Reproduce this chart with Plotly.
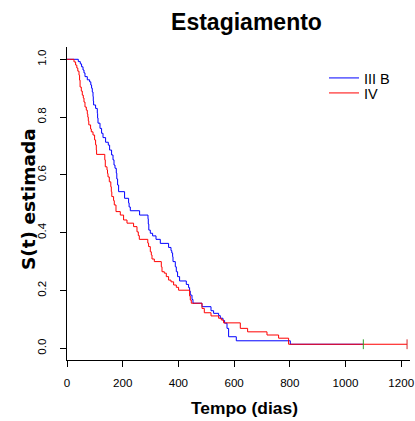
import plotly.graph_objects as go

# ---- data ----
group_names = ["III B", "IV"]

# III B (blue): event times (days) and estimated survival after each event
t_IIIB = [40.6, 47.8, 52.4, 57.5, 61.0, 64.6, 72.9, 81.2, 85.5, 88.3, 90.8, 93.4, 94.4,
          95.5, 102.7, 108.8, 109.9, 111.3, 118.5, 124.2, 129.3, 138.6, 148.3, 153.0,
          160.1, 165.2, 168.8, 172.4, 177.0, 178.8, 181.7, 185.3, 206.8, 221.2, 223.0,
          227.3, 260.7, 290.8, 291.9, 293.7, 299.1, 307.4, 319.6, 335.0, 364.8, 373.4,
          376.3, 379.2, 380.6, 388.9, 392.5, 397.1, 404.3, 428.4, 436.6, 440.2, 442.7,
          448.8, 452.4, 484.7, 517.1, 526.4, 544.4, 550.5, 560.1, 565.9, 574.5, 580.3,
          607.9, 801.8]
s_IIIB = [0.992, 0.984, 0.974, 0.963, 0.953, 0.940, 0.929, 0.922, 0.911, 0.900, 0.887,
          0.871, 0.856, 0.842, 0.830, 0.813, 0.797, 0.779, 0.761, 0.744, 0.729, 0.713,
          0.703, 0.686, 0.669, 0.652, 0.634, 0.623, 0.606, 0.586, 0.565, 0.542, 0.519,
          0.503, 0.489, 0.476, 0.461, 0.448, 0.430, 0.409, 0.398, 0.389, 0.377, 0.363,
          0.349, 0.338, 0.330, 0.317, 0.300, 0.282, 0.265, 0.248, 0.233, 0.221, 0.210,
          0.198, 0.184, 0.169, 0.156, 0.144, 0.130, 0.121, 0.113, 0.104, 0.096, 0.087,
          0.069, 0.040, 0.026, 0.014]
end_IIIB = 1064

# IV (red)
t_IV = [25.1, 30.9, 35.2, 38.8, 43.1, 45.2, 47.0, 51.3, 54.9, 58.5, 61.0, 64.6, 69.3,
        72.9, 74.7, 76.5, 78.3, 84.7, 87.3, 93.4, 99.1, 102.7, 105.2, 106.3, 135.7,
        137.5, 143.6, 145.4, 147.2, 151.9, 157.3, 159.1, 160.9, 167.3, 169.8, 175.9,
        191.4, 203.2, 215.4, 239.1, 251.3, 256.0, 259.6, 290.1, 293.0, 299.1, 302.7,
        305.2, 313.5, 338.6, 341.1, 349.4, 356.6, 364.8, 373.4, 382.8, 392.5, 400.7,
        440.2, 442.7, 446.3, 484.7, 493.0, 517.1, 544.4, 554.1, 562.3, 622.3, 648.5,
        718.1, 759.8, 795.7]
s_IV = [0.991, 0.980, 0.970, 0.959, 0.945, 0.928, 0.904, 0.890, 0.876, 0.866, 0.852,
        0.835, 0.824, 0.811, 0.800, 0.787, 0.773, 0.759, 0.749, 0.738, 0.721, 0.704,
        0.686, 0.671, 0.652, 0.628, 0.617, 0.605, 0.593, 0.576, 0.559, 0.542, 0.525,
        0.511, 0.496, 0.473, 0.461, 0.444, 0.433, 0.421, 0.403, 0.390, 0.377, 0.364,
        0.352, 0.334, 0.323, 0.309, 0.300, 0.282, 0.265, 0.260, 0.248, 0.236, 0.230,
        0.219, 0.211, 0.201, 0.181, 0.167, 0.156, 0.138, 0.123, 0.112, 0.104, 0.098,
        0.088, 0.069, 0.057, 0.046, 0.035, 0.014]
end_IV = 1221

x_ticks = [0, 200, 400, 600, 800, 1000, 1200]
y_ticks = [0.0, 0.2, 0.4, 0.6, 0.8, 1.0]

title_text = "Estagiamento"
x_title = "Tempo (dias)"
y_title = "S(t) estimada"

FONT = "Liberation Sans, Arial, sans-serif"
colors = ["#0000FF", "#FF0000"]

fig = go.Figure()

series = [(t_IIIB, s_IIIB, end_IIIB), (t_IV, s_IV, end_IV)]
for i, (tt, ss, tend) in enumerate(series):
    xs = [0] + tt + [tend]
    ys = [1.0] + ss + [ss[-1]]
    fig.add_trace(go.Scatter(
        x=xs, y=ys, mode="lines", line=dict(color=colors[i], width=1, shape="hv"),
        name=group_names[i], legend="legend" if i == 0 else "legend2",
    ))
for i, (tt, ss, tend) in enumerate(series):
    fig.add_trace(go.Scatter(
        x=[tend], y=[ss[-1]], mode="markers", showlegend=False, hoverinfo="skip",
        marker=dict(symbol="line-ns-open", size=7, line=dict(color=colors[i], width=1)),
    ))

L, R, T, B = 67, 5, 47, 61
W, H = 415, 421
pw = W - L - R
ph = H - T - B

def px_to_paper_x(px):
    return (px - L) / pw

def px_to_paper_y(py):
    return (H - B - py) / ph

legend_common = dict(
    font=dict(family=FONT, size=14.5, color="#000000"),
    bgcolor="rgba(0,0,0,0)", borderwidth=0, xanchor="left", yanchor="middle",
    itemwidth=30, tracegroupgap=0,
)

fig.update_layout(
    template="none",
    width=W, height=H,
    margin=dict(l=L, r=R, t=T, b=B, autoexpand=False),
    paper_bgcolor="white", plot_bgcolor="white",
    font=dict(family=FONT, color="#000000"),
    title=dict(text="<b>" + title_text + "</b>", x=246.5 / W, xref="container", xanchor="center",
               y=1 - 21.7 / H, yref="container", yanchor="middle",
               font=dict(family=FONT, size=23, color="#000000")),
    legend=dict(x=px_to_paper_x(324), y=px_to_paper_y(78), **legend_common),
    legend2=dict(x=px_to_paper_x(324), y=px_to_paper_y(93), **legend_common),
    xaxis=dict(range=[0, pw * 200 / 55.7], tickvals=x_ticks, ticktext=[str(v) for v in x_ticks],
               automargin=False,
               showgrid=False, zeroline=False, showline=True, linecolor="#000000", linewidth=1,
               ticks="outside", ticklen=6, tickwidth=1, tickcolor="#000000",
               tickfont=dict(family=FONT, size=11.6, color="#000000"),
               ticklabelstandoff=6),
    yaxis=dict(range=[1 + 12.3 / 289 - ph / 289, 1 + 12.3 / 289], tickvals=y_ticks,
               ticktext=["%.1f" % v for v in y_ticks], tickangle=-90,
               automargin=False,
               showgrid=False, zeroline=False, showline=True, linecolor="#000000", linewidth=1,
               ticks="outside", ticklen=6, tickwidth=1, tickcolor="#000000",
               tickfont=dict(family=FONT, size=11.6, color="#000000"),
               ticklabelstandoff=9),
    annotations=[
        dict(text="<b>" + x_title + "</b>", xref="paper", yref="paper",
             x=px_to_paper_x(244), y=px_to_paper_y(408), xanchor="center", yanchor="middle",
             showarrow=False, font=dict(family=FONT, size=17.4, color="#000000")),
        dict(text="<b>" + y_title + "</b>", xref="paper", yref="paper",
             x=px_to_paper_x(28), y=px_to_paper_y(199), xanchor="center", yanchor="middle",
             textangle=-90, showarrow=False,
             font=dict(family="DejaVu Sans, Liberation Sans, sans-serif", size=18.5, color="#000000")),
    ],
)

fig.write_html("out.html", config={"displayModeBar": False},
               post_script="document.body.style.margin='0';document.body.style.overflow='hidden';")
